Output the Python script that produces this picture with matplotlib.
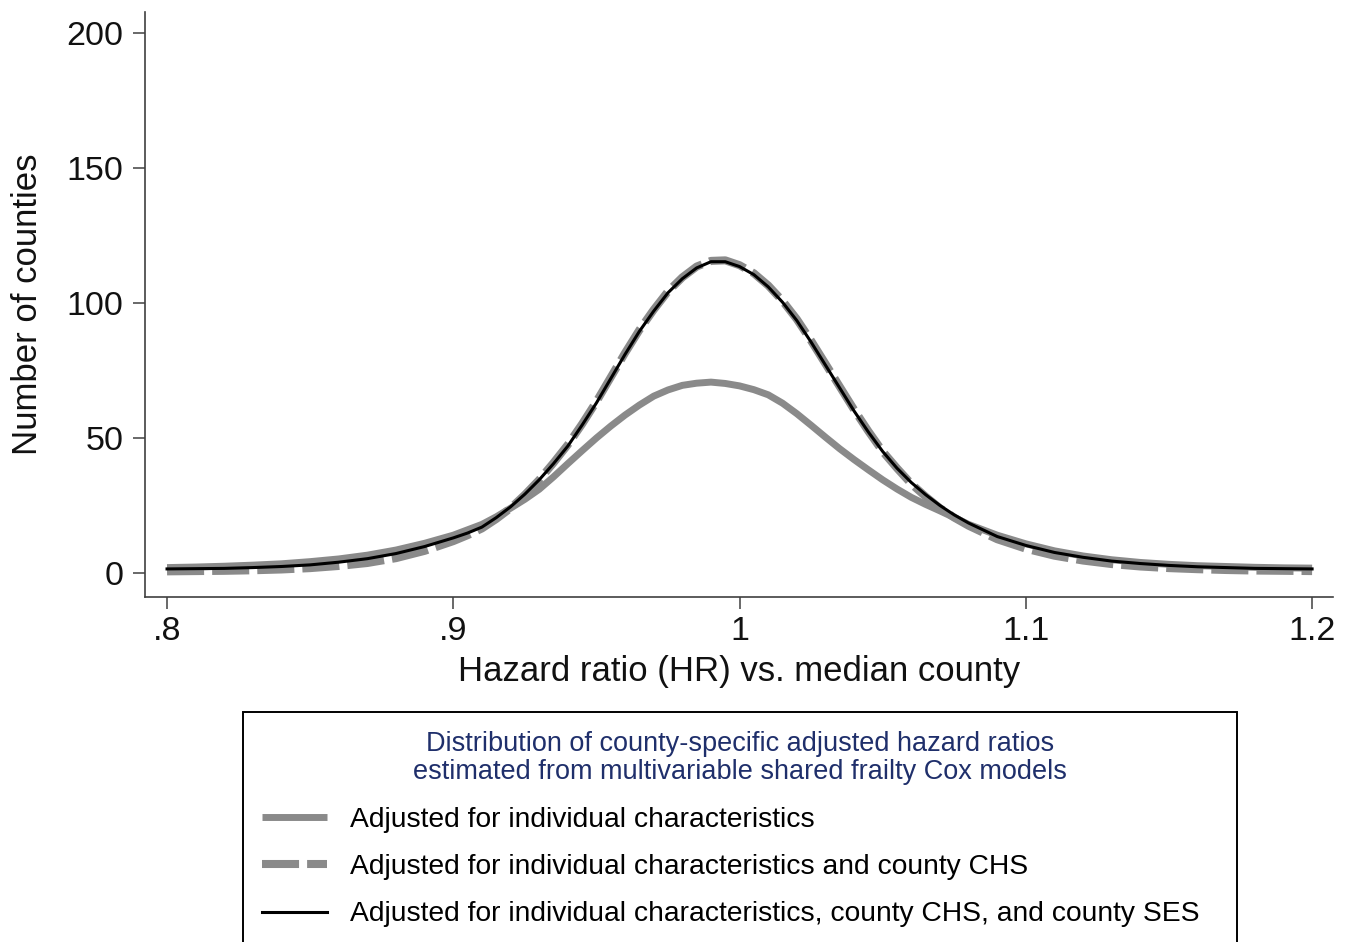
import matplotlib
matplotlib.use("Agg")
import matplotlib.pyplot as plt

plt.rcParams['font.family'] = ['Liberation Sans', 'DejaVu Sans']

# hazard ratio grid and the three density curves
hr = [0.80, 0.81, 0.82, 0.83, 0.84, 0.85, 0.86, 0.87, 0.88, 0.89,
      0.900, 0.905, 0.910, 0.915, 0.920, 0.925, 0.930, 0.935, 0.940, 0.945,
      0.950, 0.955, 0.960, 0.965, 0.970, 0.975, 0.980, 0.985, 0.990, 0.995,
      1.000, 1.005, 1.010, 1.015, 1.020, 1.025, 1.030, 1.035, 1.040, 1.045,
      1.050, 1.055, 1.060, 1.065, 1.070, 1.075, 1.080,
      1.09, 1.10, 1.11, 1.12, 1.13, 1.14, 1.15, 1.16, 1.17, 1.18, 1.19, 1.20]

indiv = [2.0, 2.2, 2.5, 2.9, 3.4, 4.2, 5.2, 6.6, 8.5, 11.0,
         14.0, 16.0, 18.0, 20.8, 24.0, 27.3, 31.0, 35.6, 40.5, 45.3,
         50.0, 54.4, 58.5, 62.2, 65.5, 67.8, 69.5, 70.3, 70.7, 70.2,
         69.3, 67.9, 66.0, 62.9, 59.0, 54.7, 50.3, 46.0, 42.0, 38.2,
         34.5, 31.1, 28.0, 25.4, 23.0, 20.5, 18.0,
         14.0, 10.8, 8.2, 6.3, 4.9, 3.9, 3.2, 2.7, 2.4, 2.1, 1.9, 1.8]

indiv_chs = [0.6, 0.7, 0.8, 1.0, 1.3, 1.8, 2.6, 3.7, 5.5, 8.2,
             11.8, 14.0, 16.5, 20.0, 24.0, 29.0, 34.5, 40.8, 47.5, 55.2,
             63.5, 72.5, 81.5, 90.0, 97.5, 104.3, 109.5, 113.5, 115.6, 115.8,
             114.0, 111.0, 106.5, 100.8, 94.0, 86.0, 77.5, 69.0, 60.5, 52.5,
             45.0, 38.8, 33.0, 28.3, 24.0, 20.5, 17.5,
             12.5, 9.0, 6.4, 4.6, 3.3, 2.4, 1.8, 1.4, 1.1, 0.9, 0.8, 0.7]

indiv_chs_ses = [1.5, 1.6, 1.7, 2.0, 2.4, 3.0, 4.0, 5.3, 7.2, 9.8,
                 13.0, 14.8, 17.0, 20.5, 24.5, 29.2, 34.5, 40.5, 47.0, 54.8,
                 63.0, 72.0, 81.0, 89.5, 97.0, 103.8, 109.0, 113.0, 115.3, 115.3,
                 113.5, 110.5, 106.0, 100.3, 93.5, 85.5, 77.0, 68.5, 60.0, 52.2,
                 45.0, 38.8, 33.5, 29.0, 25.0, 21.5, 18.5,
                 13.5, 10.2, 7.6, 5.8, 4.4, 3.5, 2.8, 2.3, 2.0, 1.7, 1.6, 1.5]

labels = ["Adjusted for individual characteristics",
          "Adjusted for individual characteristics and county CHS",
          "Adjusted for individual characteristics, county CHS, and county SES"]
legend_title = ("Distribution of county-specific adjusted hazard ratios\n"
                "estimated from multivariable shared frailty Cox models")

xticks = [0.8, 0.9, 1.0, 1.1, 1.2]
xticklabels = [".8", ".9", "1", "1.1", "1.2"]
yticks = [0, 50, 100, 150, 200]

W, H = 1356, 942
fig = plt.figure(figsize=(W / 100, H / 100), dpi=100)
fig.set_facecolor('white')
ax = fig.add_axes([145 / W, (H - 597) / H, (1333 - 145) / W, (597 - 12) / H])

gray = '#8a8a8a'
l1, = ax.plot(hr, indiv, color=gray, lw=5.0, solid_capstyle='butt', zorder=2)
l2, = ax.plot(hr, indiv_chs, color=gray, lw=5.8, dashes=(4.6, 1.0), zorder=3)
l3, = ax.plot(hr, indiv_chs_ses, color='black', lw=2.2, zorder=4)

ax.set_xlim(0.7923, 1.2073)
ax.set_ylim(-8.9, 207.8)
ax.set_xticks(xticks)
ax.set_xticklabels(xticklabels)
ax.set_yticks(yticks)

for s in ['top', 'right']:
    ax.spines[s].set_visible(False)
for s in ['left', 'bottom']:
    ax.spines[s].set_color('#404040')
    ax.spines[s].set_linewidth(1.2)

ax.tick_params(axis='both', direction='out', length=8.5, width=1.1,
               color='#404040', labelsize=24.5, labelcolor='#111111')
ax.tick_params(axis='y', pad=7)
ax.tick_params(axis='x', pad=5)

ax.set_xlabel("Hazard ratio (HR) vs. median county", fontsize=25, color='#111111', labelpad=6)
ax.set_ylabel("Number of counties", fontsize=25, color='#111111', labelpad=16)

# legend box runs off the bottom edge of the figure like the original
leg = ax.legend([l1, l2, l3], labels, title=legend_title,
                loc='upper left', mode='expand',
                bbox_to_anchor=(243 / W, 0.0, (1237 - 243) / W, (H - 712) / H),
                bbox_transform=fig.transFigure,
                fontsize=20.3, title_fontsize=19.5, frameon=True, fancybox=False,
                edgecolor='black', framealpha=1, borderpad=0.68,
                handlelength=2.3, handletextpad=0.8, labelspacing=0.76,
                borderaxespad=0)
leg.get_frame().set_linewidth(1.4)
leg.get_title().set_color('#1f2f6b')
leg.get_title().set_multialignment('center')
leg.get_title().set_linespacing(1.1)

fig.savefig('out.png', dpi=100)
